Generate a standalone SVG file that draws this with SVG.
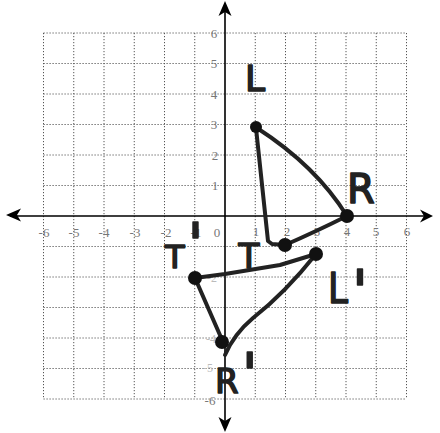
<svg xmlns="http://www.w3.org/2000/svg" width="440" height="433" viewBox="0 0 440 433">
<style>
.grid{stroke:#555;stroke-width:1;stroke-dasharray:1.2 1.8;fill:none}
.axis{stroke:#000;stroke-width:1.6;fill:none}
.head{fill:#000}
.num{font-family:"Liberation Serif",serif;font-size:13px;fill:#777;text-anchor:middle}
.numf{font-family:"Liberation Serif",serif;font-size:12px;fill:#bbb;text-anchor:middle}
.edge{stroke:#222;stroke-width:4;fill:none;stroke-linecap:round;stroke-linejoin:round}
.dot{fill:#111}
.lbl{font-family:"DejaVu Sans",sans-serif;font-weight:normal;fill:#222;stroke:#222;stroke-width:1.6;stroke-linejoin:round}
.pr{font-weight:normal;font-size:58px}
</style>
<rect width="440" height="433" fill="#fff"/>
<g id="grid">
<path class="grid" d="M43.5 33V399M73.75 33V399M104 33V399M134.25 33V399M164.5 33V399M194.75 33V399M255.25 33V399M285.5 33V399M315.75 33V399M346 33V399M376.25 33V399M406.5 33V399"/>
<path class="grid" d="M43.5 33H406.5M43.5 63.5H406.5M43.5 94H406.5M43.5 124.5H406.5M43.5 155H406.5M43.5 185.5H406.5M43.5 246.5H406.5M43.5 277H406.5M43.5 307.5H406.5M43.5 338H406.5M43.5 368.5H406.5M43.5 399H406.5"/>
</g>
<g id="axes">
<path class="axis" d="M10 216H428M225 6V428"/>
<polygon class="head" points="433,216 420,209.5 424,216 420,222.5"/>
<polygon class="head" points="6,215 21,208.5 17,215 21,221.5"/>
<polygon class="head" points="225,1 218.5,16 225,12 231.5,16"/>
<polygon class="head" points="225,432 218.5,417 225,421 231.5,417"/>
</g>
<g id="tick-labels">
<text class="num" x="44" y="237">-6</text>
<text class="num" x="74" y="237">-5</text>
<text class="num" x="104" y="237">-4</text>
<text class="num" x="135" y="237">-3</text>
<text class="num" x="166" y="237">-2</text>
<text class="num" x="196" y="237">-1</text>
<text class="num" x="217" y="237">0</text>
<text class="num" x="256" y="236">1</text>
<text class="num" x="287" y="236">2</text>
<text class="num" x="317" y="236">3</text>
<text class="num" x="347" y="236">4</text>
<text class="num" x="376" y="236">5</text>
<text class="num" x="407" y="236">6</text>
<text class="num" x="214" y="38">6</text>
<text class="num" x="214" y="68">5</text>
<text class="num" x="214" y="99">4</text>
<text class="num" x="214" y="129">3</text>
<text class="num" x="215" y="160">2</text>
<text class="num" x="215" y="190">1</text>
<text class="numf" x="212" y="282">-2</text>
<text class="numf" x="211" y="343">-4</text>
<text class="numf" x="208" y="372">-5</text>
<text class="num" x="210" y="405">-6</text>
</g>
<g id="connectors">
<path id="edge-LT" class="edge" d="M256 128L268 241L272 244L285 245"/>
<path id="edge-TR" class="edge" d="M285 245Q315 232 347 216"/>
<path id="edge-RL" class="edge" d="M347 216Q316 166 257 128"/>
<path id="edge-TpLp" class="edge" d="M195 278L225 274L280 265L316 254"/>
<path id="edge-LpRp" class="edge" d="M316 254Q285 293 253 318Q234 334 225 355"/>
<path id="edge-TpRp" class="edge" d="M195 278L223 342"/>
</g>
<g id="node-L"><circle class="dot" cx="256" cy="127" r="6"/><text class="lbl" x="245" y="91" font-size="36">L</text></g>
<g id="node-T"><circle class="dot" cx="285" cy="245" r="7"/><text class="lbl" x="249" y="268" font-size="34" text-anchor="middle">T</text></g>
<g id="node-R"><circle class="dot" cx="347" cy="216" r="7"/><text class="lbl" x="347" y="203" font-size="40">R</text></g>
<g id="node-Tp"><circle class="dot" cx="195" cy="278" r="7"/><text class="lbl" x="165" y="268" font-size="32">T<tspan class="pr" dx="3" dy="-3">'</tspan></text></g>
<g id="node-Lp"><circle class="dot" cx="316" cy="254" r="7"/><text class="lbl" x="328" y="303" font-size="42"><tspan textLength="20" lengthAdjust="spacingAndGlyphs">L</tspan><tspan class="pr" dx="4" dy="9">'</tspan></text></g>
<g id="node-Rp"><circle class="dot" cx="222" cy="342" r="7"/><text class="lbl" x="215" y="393" font-size="34">R<tspan class="pr" dx="3" dy="2">'</tspan></text></g>
</svg>
